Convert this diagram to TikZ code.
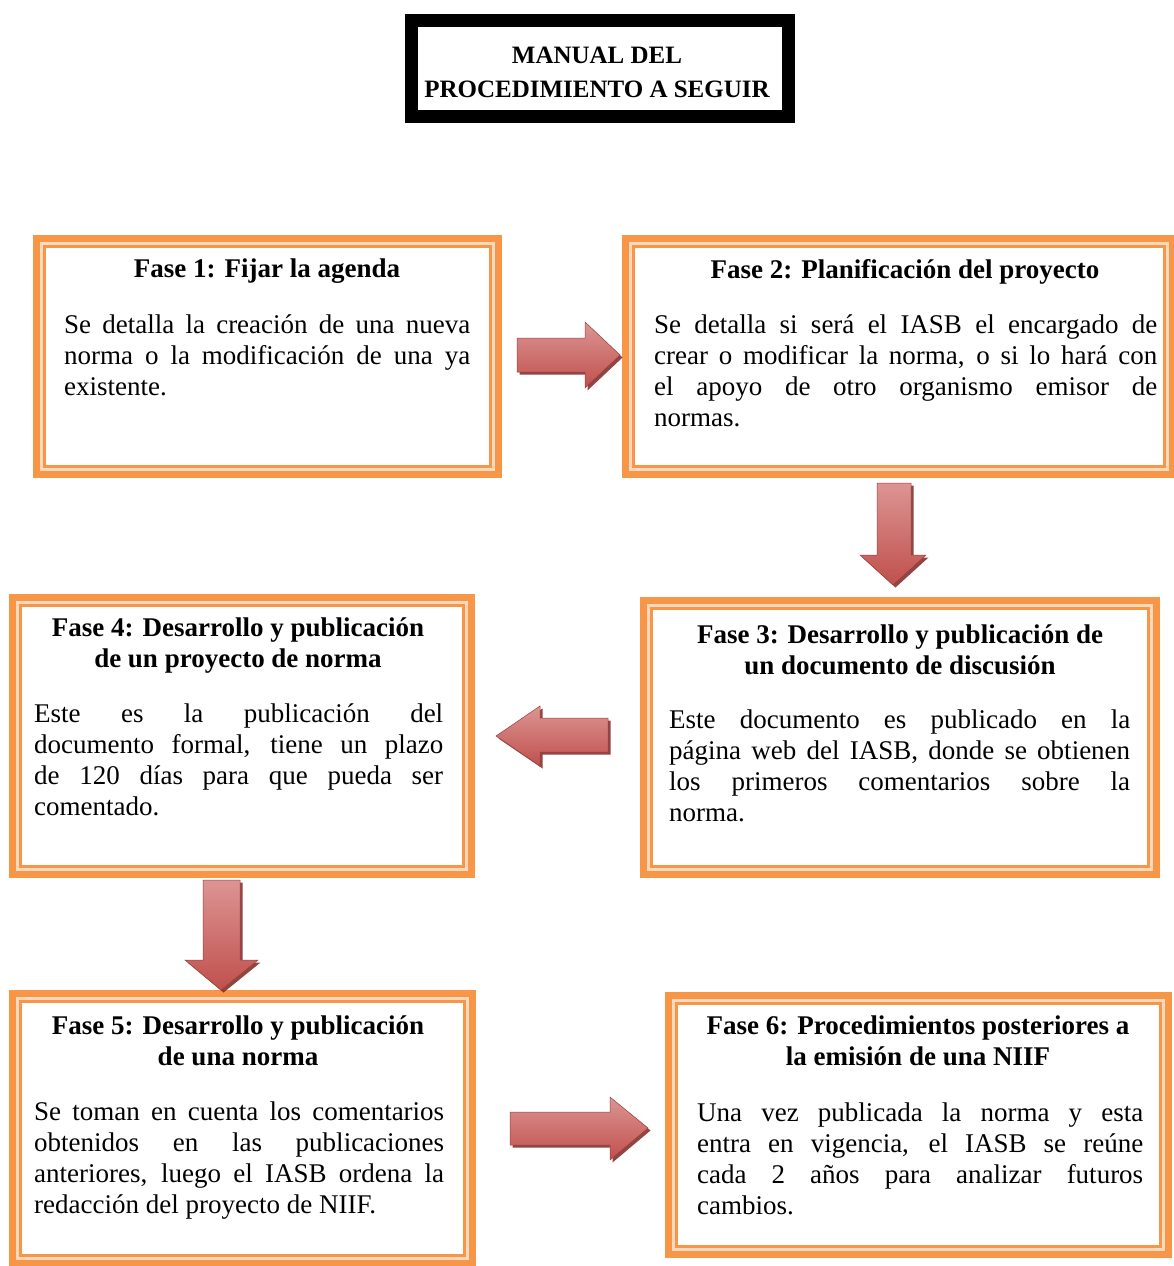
\documentclass[tikz,border=0pt]{standalone}
\usepackage{fontspec}
\setmainfont{Liberation Serif}
\usetikzlibrary{calc}
\definecolor{orng}{HTML}{F79646}
\definecolor{orngl}{HTML}{FCD9BE}
\definecolor{arw}{HTML}{C0504D}
\definecolor{arwl}{HTML}{DC9593}
\definecolor{arwd}{HTML}{7E2522}
\tolerance=10000
\hbadness=10000
\newcommand\phasebox[5]{%
  \node[phasebox, minimum width={#4-#2-13}, minimum height={#5-#3-13}] (#1) at ({(#2+#4)/2},{(#3+#5)/2}) {};
  \draw[innerln] ([shift={(2,2)}]#1.north west) rectangle ([shift={(-2,-2)}]#1.south east);}
\begin{document}
\begin{tikzpicture}[x=1pt,y=-1pt,
  phasebox/.style={draw=orng, line width=13pt, fill=white, inner sep=0pt, outer sep=0pt},
  innerln/.style={draw=orngl, line width=2.5pt},
  titlebox/.style={draw=black, line width=13pt, fill=white, inner sep=0pt, outer sep=0pt},
  body/.style={anchor=north west, inner sep=0pt, align=justify,
    font=\fontsize{27}{31}\selectfont},
  ttl/.style={anchor=north, inner sep=0pt, align=center,
    font=\fontsize{27}{31}\selectfont\bfseries},
  shadowarrow/.style={fill=arwd, opacity=0.85},
  harrow/.style={top color=arwl, bottom color=arw, draw=arw!80!black, line width=0.5pt},
  varrow/.style={top color=arwl, bottom color=arw, draw=arw!80!black, line width=0.5pt}]
\useasboundingbox (0,0) rectangle (1174,1266);
\fill[white] (0,0) rectangle (1174,1266);

% title
\node[titlebox, minimum width=377, minimum height=96] (title) at (600,68.5) {};
\node[anchor=north, inner sep=0pt, align=center, font=\fontsize{25}{34}\selectfont\bfseries] (titletext) at (597,47) {MANUAL DEL\\PROCEDIMIENTO A SEGUIR};

% boxes
\phasebox{b1}{33}{235}{502}{478}
\phasebox{b2}{622}{235}{1176}{478}
\phasebox{b3}{640}{597}{1160}{878}
\phasebox{b4}{9}{594}{475}{878}
\phasebox{b5}{9}{990}{476}{1267}
\phasebox{b6}{665}{992}{1172}{1258}

% texts
\node[ttl] (t1) at (267,259) {Fase 1: Fijar la agenda};
\node[body, text width=406] (d1) at (64,314.5) {Se detalla la creación de una nueva\linebreak norma o la modificación de una ya\linebreak existente.};

\node[ttl] (t2) at (905,259) {Fase 2: Planificación del proyecto};
\node[body, text width=503] (d2) at (654,314.5) {Se detalla si será el IASB el encargado de\linebreak crear o modificar la norma, o si lo hará con\linebreak el apoyo de otro organismo emisor de\linebreak normas.};

\node[ttl] (t3) at (900,625) {Fase 3: Desarrollo y publicación de\\un documento de discusión};
\node[body, text width=461] (d3) at (669,709.5) {Este documento es publicado en la\linebreak página web del IASB, donde se obtienen\linebreak los primeros comentarios sobre la\linebreak norma.};

\node[ttl] (t4) at (238,618) {Fase 4: Desarrollo y publicación\\de un proyecto de norma};
\node[body, text width=409] (d4) at (34,703.5) {Este es la publicación del\linebreak documento formal, tiene un plazo\linebreak de 120 días para que pueda ser\linebreak comentado.};

\node[ttl] (t5) at (238,1016) {Fase 5: Desarrollo y publicación\\de una norma};
\node[body, text width=410] (d5) at (34,1101.5) {Se toman en cuenta los comentarios\linebreak obtenidos en las publicaciones\linebreak anteriores, luego el IASB ordena la\linebreak redacción del proyecto de NIIF.};

\node[ttl] (t6) at (918,1016) {Fase 6: Procedimientos posteriores a\\la emisión de una NIIF};
\node[body, text width=446] (d6) at (697,1102.5) {Una vez publicada la norma y esta\linebreak entra en vigencia, el IASB se reúne\linebreak cada 2 años para analizar futuros\linebreak cambios.};

% block arrows
\def\arrA{(517,338) -- (585,338) -- (585,322) -- (620,355) -- (585,388) -- (585,372) -- (517,372) -- cycle}
\def\arrB{(877,483) -- (911,483) -- (911,555) -- (926,555) -- (893,585) -- (860,555) -- (877,555) -- cycle}
\def\arrC{(608,718) -- (540,718) -- (540,706) -- (496,736) -- (540,766) -- (540,752) -- (608,752) -- cycle}
\def\arrD{(203,880) -- (240,880) -- (240,960) -- (258,960) -- (221,990) -- (185,960) -- (203,960) -- cycle}
\def\arrE{(510,1112) -- (610,1112) -- (610,1097) -- (648,1128) -- (610,1160) -- (610,1145) -- (510,1145) -- cycle}
\foreach \a in {\arrA,\arrB,\arrC,\arrD,\arrE}{
  \fill[shadowarrow, xshift=2.5pt, yshift=-2.5pt] \a;
}
\shade[harrow] \arrA;
\shade[varrow] \arrB;
\shade[harrow] \arrC;
\shade[varrow] \arrD;
\shade[harrow] \arrE;
\end{tikzpicture}
\end{document}
